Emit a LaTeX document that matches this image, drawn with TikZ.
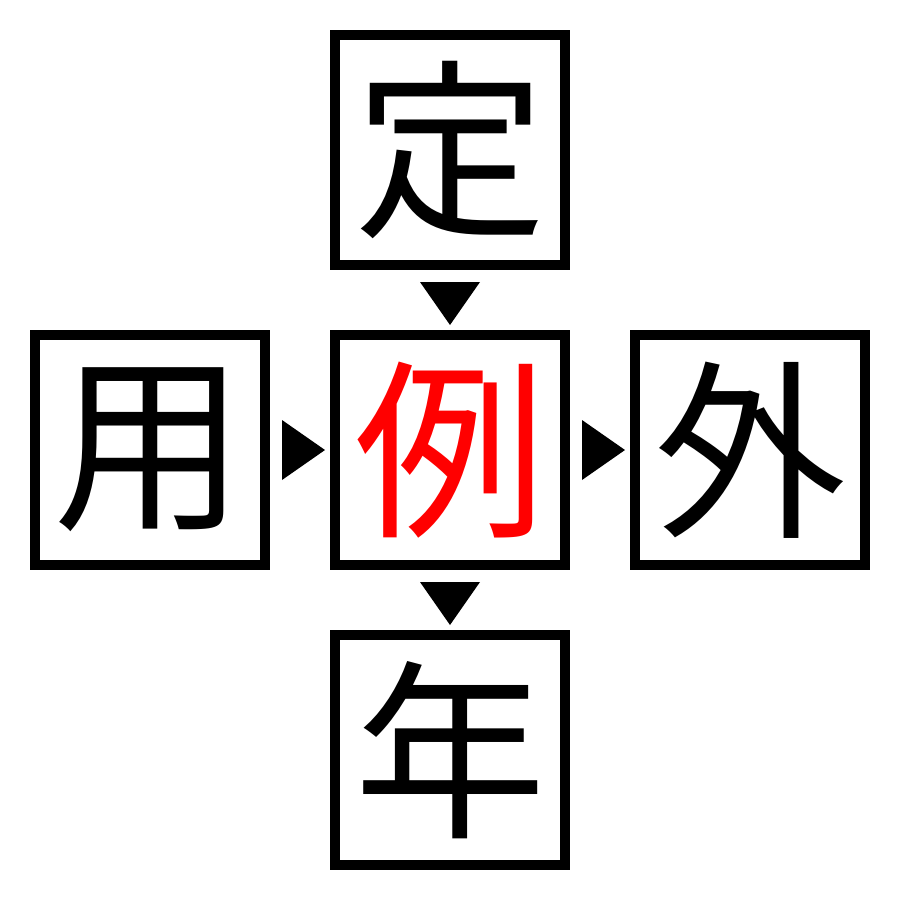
\documentclass[tikz,border=0pt]{standalone}
\usepackage{fontspec}
\newfontfamily\cjk{Noto Sans CJK JP}
\begin{document}
\begin{tikzpicture}[x=0.5pt,y=-0.5pt,
  cell/.style={draw=black,line width=5pt,minimum size=115pt,inner sep=0pt,
    font=\cjk\fontsize{96pt}{96pt}\selectfont},
  tri/.style={fill=black,draw=none}]
\useasboundingbox (0,0) rectangle (900,900);
\node[cell] (top) at (450,150) {定};
\node[cell] (left) at (150,450) {用};
\node[cell,text=red] (mid) at (450,450) {例};
\node[cell] (right) at (750,450) {外};
\node[cell] (bot) at (450,750) {年};
\fill[tri] (420,282) -- (480,282) -- (450,325) -- cycle;
\fill[tri] (420,582) -- (480,582) -- (450,625) -- cycle;
\fill[tri] (282,420) -- (282,480) -- (325,450) -- cycle;
\fill[tri] (582,420) -- (582,480) -- (625,450) -- cycle;
\end{tikzpicture}
\end{document}
